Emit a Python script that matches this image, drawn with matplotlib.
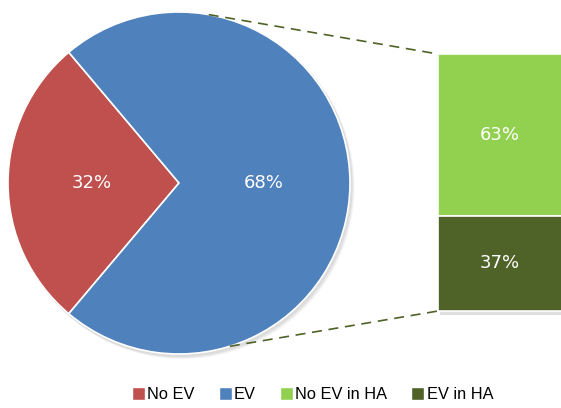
import matplotlib
matplotlib.use("Agg")
import matplotlib.pyplot as plt
from matplotlib.patches import Rectangle
import numpy as np

# pie data (slice sizes as drawn, labels as printed on the chart)
pie_names = ["No EV", "EV"]
pie_sizes = [27.7, 72.3]
pie_labels = ["32%", "68%"]
pie_colors = ["#C0504D", "#4F81BD"]

# bar of pie data
bar_names = ["No EV in HA", "EV in HA"]
bar_values = [63, 37]
bar_labels = ["63%", "37%"]
bar_colors = ["#92D050", "#4F6228"]

W, H = 561, 408
fig = plt.figure(figsize=(W / 100, H / 100), dpi=100)
ax = fig.add_axes([0, 0, 1, 1])

label_font = ["Liberation Sans Narrow", "DejaVu Sans"]

# pie, red slice pointing left
cx, cy, r = 179, 225, 171
red_span = pie_sizes[0] / sum(pie_sizes) * 360
# soft shadow
for k, a in enumerate([0.05, 0.05, 0.04]):
    ax.add_patch(plt.Circle((cx + 1.5 + k, cy - 2 - k), r + 1, color="#000000",
                            alpha=a, lw=0, zorder=1))
wedges, _ = ax.pie(pie_sizes, colors=pie_colors, startangle=180 - red_span / 2,
                   center=(cx, cy), radius=r, frame=True,
                   wedgeprops=dict(edgecolor="white", linewidth=1.2))
for w in wedges:
    w.set_zorder(2)
ax.set_xlim(0, W)
ax.set_ylim(0, H)
ax.set_aspect("equal")
ax.axis("off")

ax.text(cx - 87, cy, pie_labels[0], color="white", fontsize=13,
        family=label_font, ha="center", va="center", zorder=5)
ax.text(cx + 85, cy, pie_labels[1], color="white", fontsize=13,
        family=label_font, ha="center", va="center", zorder=5)

# stacked bar on the right
bar_x, bar_w = 438, 200
bar_bottom, bar_total = 97, 257
ax.add_patch(Rectangle((bar_x + 2, bar_bottom - 4), bar_w, bar_total,
                       color="#000000", alpha=0.12, lw=0, zorder=1))
seg_h = [v / sum(bar_values) * bar_total for v in bar_values]
y0 = bar_bottom + bar_total
for h, c, lab in zip(seg_h, bar_colors, bar_labels):
    ax.bar(bar_x, h, width=bar_w, bottom=y0 - h, align="edge", color=c,
           edgecolor="white", linewidth=1.2, zorder=2)
    ax.text(bar_x + 62, y0 - h / 2, lab, color="white", fontsize=13,
            family=label_font, ha="center", va="center", zorder=5)
    y0 -= h

# dashed connectors
top_ang, bot_ang = np.radians(80), np.radians(-72.7)
ax.plot([cx + r * np.cos(top_ang), bar_x], [cy + r * np.sin(top_ang), bar_bottom + bar_total],
        ls=(0, (6, 4)), color="#4F6228", lw=1.2, zorder=3)
ax.plot([cx + r * np.cos(bot_ang), bar_x], [cy + r * np.sin(bot_ang), bar_bottom],
        ls=(0, (6, 4)), color="#4F6228", lw=1.2, zorder=3)

# legend
handles = [Rectangle((0, 0), 1, 1, facecolor=c, edgecolor="white")
           for c in pie_colors + bar_colors]
fig.legend(handles, pie_names + bar_names, loc="center", bbox_to_anchor=(0.557, 0.032),
           ncol=4, frameon=False, handlelength=0.8, handleheight=0.8,
           handletextpad=0.15, columnspacing=1.45, borderpad=0,
           prop=dict(family=["Liberation Sans", "DejaVu Sans"], size=11.8))

fig.savefig("out.png", dpi=100)
